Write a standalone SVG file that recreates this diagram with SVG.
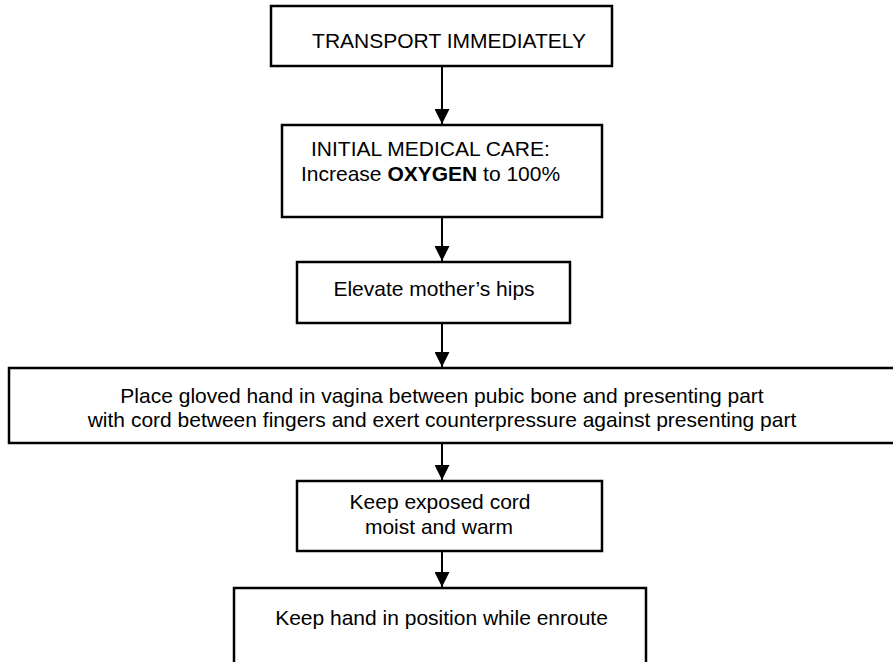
<svg xmlns="http://www.w3.org/2000/svg" width="893" height="662" viewBox="0 0 893 662">
  <style>
    .box { fill: #ffffff; stroke: #000000; stroke-width: 2.5; }
    .lbl { font-family: "Liberation Sans", Arial, sans-serif; font-size: 21px; fill: #000000; }
    .mid { text-anchor: middle; }
    .conn { stroke: #000000; stroke-width: 2; fill: none; }
  </style>
  <defs>
    <marker id="arrow" markerWidth="15" markerHeight="15" refX="15" refY="7.5" orient="auto" markerUnits="userSpaceOnUse">
      <path d="M0,0 L15,7.5 L0,15 z" fill="#000000"/>
    </marker>
  </defs>
  <rect width="893" height="662" fill="#ffffff"/>

  <g id="transport">
    <rect class="box" x="271" y="6" width="341" height="60"/>
    <text class="lbl mid" x="449" y="48">TRANSPORT IMMEDIATELY</text>
  </g>

  <g id="initial-care">
    <rect class="box" x="282" y="125" width="320" height="92"/>
    <text class="lbl" x="311" y="156">INITIAL MEDICAL CARE:</text>
    <text class="lbl" x="301" y="181">Increase <tspan font-weight="bold">OXYGEN</tspan> to 100%</text>
  </g>

  <g id="elevate-hips">
    <rect class="box" x="297" y="262" width="273" height="61"/>
    <text class="lbl mid" x="434" y="296">Elevate mother’s hips</text>
  </g>

  <g id="gloved-hand">
    <rect class="box" x="9" y="368" width="900" height="75"/>
    <text class="lbl mid" x="442" y="403">Place gloved hand in vagina between pubic bone and presenting part</text>
    <text class="lbl mid" x="442" y="427">with cord between fingers and exert counterpressure against presenting part</text>
  </g>

  <g id="cord-moist">
    <rect class="box" x="297" y="481" width="305" height="70"/>
    <text class="lbl mid" x="440" y="509">Keep exposed cord</text>
    <text class="lbl mid" x="439" y="534">moist and warm</text>
  </g>

  <g id="hand-position">
    <rect class="box" x="234" y="588" width="412" height="90"/>
    <text class="lbl mid" x="441.5" y="625">Keep hand in position while enroute</text>
  </g>

  <g id="connectors">
    <line class="conn" x1="442" y1="66" x2="442" y2="124" marker-end="url(#arrow)"/>
    <line class="conn" x1="442" y1="217" x2="442" y2="261" marker-end="url(#arrow)"/>
    <line class="conn" x1="442" y1="323" x2="442" y2="367" marker-end="url(#arrow)"/>
    <line class="conn" x1="442" y1="443" x2="442" y2="480" marker-end="url(#arrow)"/>
    <line class="conn" x1="442" y1="551" x2="442" y2="587" marker-end="url(#arrow)"/>
  </g>
</svg>
